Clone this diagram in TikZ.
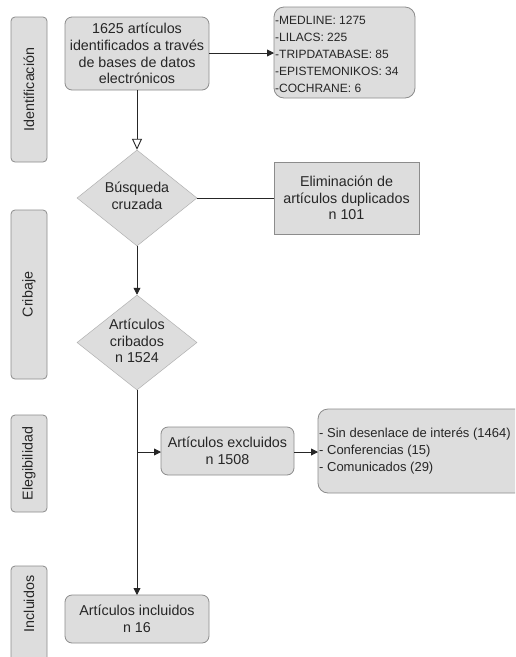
\documentclass[tikz,border=0pt]{standalone}
\usepackage{fontspec}
\setmainfont{Liberation Sans}
\usetikzlibrary{shapes.geometric,arrows.meta}
\definecolor{boxfill}{HTML}{DDDDDD}
\definecolor{boxline}{HTML}{8C8C8C}
\tikzset{
  lane/.style={draw=boxline, fill=boxfill, rounded corners=4pt, line width=0.8pt},
  rbox/.style={draw=boxline, fill=boxfill, rounded corners=7pt, line width=0.8pt},
  sbox/.style={draw=boxline, fill=boxfill, line width=0.8pt},
  dia/.style={diamond, draw=boxfill!80!black, fill=boxfill, line width=0.5pt, inner sep=0pt, minimum width=120pt, minimum height=96pt, aspect=1.25},
  txt/.style={font=\fontsize{14.3}{16.7}\selectfont, align=center, text=black!85},
  conn/.style={line width=0.9pt, draw=black!85},
  farrow/.style={conn, -{Triangle[length=7pt,width=7pt]}},
  oarrow/.style={conn, -{Triangle[open,length=11pt,width=10pt,fill=white]}},
}
\begin{document}
\begin{tikzpicture}[x=1pt,y=-1pt]
\useasboundingbox (0,0) rectangle (515,657);
\clip (0,0) rectangle (515,657);
\fill[white] (0,0) rectangle (515,657);
% lanes
\draw[lane] (11,17) rectangle (47,162);
\node[txt, rotate=90] (l1) at (29,89.5) {Identificación};
\draw[lane] (11,210) rectangle (47,379);
\node[txt, rotate=90] (l2) at (29,294.5) {Cribaje};
\draw[lane] (11,415) rectangle (47,512);
\node[txt, rotate=90] (l3) at (29,463.5) {Elegibilidad};
\draw[lane] (11,566) rectangle (47,680);
\node[txt, rotate=90] (l4) at (29,604) {Incluidos};
% boxes
\draw[rbox] (65,17) rectangle (209,90);
\node[txt] (b1) at (137,53.5) {1625 artículos\\identificados a través\\de bases de datos\\electrónicos};
\coordinate (b1r) at (209,53);
\coordinate (b1b) at (137,90);
\draw[rbox, rounded corners=10pt] (274,7) rectangle (415,98);
\node[font=\fontsize{12}{17}\selectfont, align=left, text=black!85, anchor=west, inner sep=0pt] (db) at (275,54) {-MEDLINE: 1275\\-LILACS: 225\\-TRIPDATABASE: 85\\-EPISTEMONIKOS: 34\\-COCHRANE: 6};
\coordinate (dbl) at (274,53);
\node[dia] (d1) at (137,198) {};
\node[txt] (d1t) at (137,196) {Búsqueda\\cruzada};
\draw[sbox] (274,162) rectangle (419,234);
\node[txt] (el) at (346.5,198) {Eliminación de\\artículos duplicados\\n 101};
\coordinate (ell) at (274,198);
\node[dia, minimum height=95pt] (d2) at (137,342.5) {};
\node[txt] (d2t) at (137,341) {Artículos\\cribados\\n 1524};
\draw[rbox] (161,427) rectangle (294,475);
\node[txt] (ex) at (227.5,451) {Artículos excluidos\\n 1508};
\coordinate (exl) at (161,452);
\coordinate (exr) at (294,452);
\draw[rbox, rounded corners=10pt] (318,409) rectangle (530,493);
\node[font=\fontsize{13}{16.7}\selectfont, align=left, text=black!85, anchor=west, inner sep=0pt] (rs) at (319,451) {- Sin desenlace de interés (1464)\\- Conferencias (15)\\- Comunicados (29)};
\coordinate (rsl) at (318,452);
\draw[rbox] (65,595) rectangle (209,643);
\node[txt] (inc) at (137,619) {Artículos incluidos\\n 16};
\coordinate (inct) at (137,595);
\coordinate (br) at (137,452);
% connectors
\draw[farrow] (b1r) -- (dbl);
\draw[oarrow] (b1b) -- (d1.north);
\draw[conn] (d1.east) -- (ell);
\draw[farrow] (d1.south) -- (d2.north);
\draw[farrow] (d2.south) -- (inct);
\draw[farrow] (br) -- (exl);
\draw[farrow] (exr) -- (rsl);
\end{tikzpicture}
\end{document}
